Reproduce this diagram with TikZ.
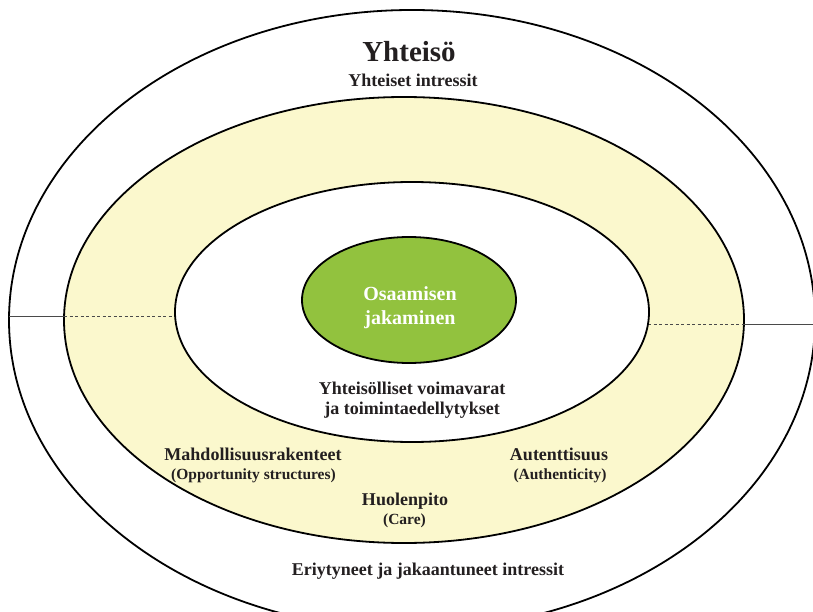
\documentclass[tikz,border=0pt]{standalone}
\usepackage{fontspec}
\setmainfont{Liberation Serif}
\usetikzlibrary{shapes.geometric}
\definecolor{ink}{HTML}{231F20}
\definecolor{band}{HTML}{FBF8CD}
\definecolor{leaf}{HTML}{92C23E}
\definecolor{rulegray}{HTML}{4A4A4A}
\begin{document}
\begin{tikzpicture}[x=1pt,y=-1pt,
  ring/.style={ellipse,draw=black,line width=1.8pt,inner sep=0pt,outer sep=0pt},
  lbl/.style={text=ink,font=\bfseries\fontsize{18}{21}\selectfont,anchor=base,inner sep=0pt},
  sublbl/.style={lbl,font=\bfseries\fontsize{15.5}{18}\selectfont},
  divider/.style={draw=rulegray,line width=1pt},
  dashdivider/.style={divider,dash pattern=on 3pt off 2.5pt}]
\useasboundingbox (0,0) rectangle (813,612);
\clip (0,0) rectangle (813,612);

% nested rings
\node[ring,fill=white,minimum width=806pt,minimum height=620pt] (outer) at (412,320) {};
\node[ring,fill=band,minimum width=680pt,minimum height=446pt] (bandring) at (404,320) {};

% divider lines through the rings
\coordinate (lo) at (9,316);
\coordinate (lb) at (64,316);
\coordinate (li) at (176,316);
\coordinate (ri) at (648,324);
\coordinate (rb) at (744,324);
\coordinate (ro) at (815,324);
\draw[divider] (lo) -- (lb);
\draw[dashdivider] (lb) -- (li);
\draw[dashdivider] (ri) -- (rb);
\draw[divider] (rb) -- (ro);

\node[ring,fill=white,minimum width=474pt,minimum height=260pt] (innerring) at (412,312) {};
\node[ring,fill=leaf,minimum width=214pt,minimum height=126pt] (core) at (409,300) {};

% texts
\node[lbl,font=\bfseries\fontsize{29}{32}\selectfont] (title) at (409,61.5) {Yhteisö};
\node[lbl] (common) at (413,86.5) {Yhteiset intressit};
\node[lbl,text=white,font=\bfseries\fontsize{20}{24}\selectfont] (core1) at (410,300) {Osaamisen};
\node[lbl,text=white,font=\bfseries\fontsize{20}{24}\selectfont] (core2) at (410,324.5) {jakaminen};
\node[lbl] (res1) at (412,394) {Yhteisölliset voimavarat};
\node[lbl] (res2) at (412,414) {ja toimintaedellytykset};
\node[lbl] (opp) at (253,460.5) {Mahdollisuusrakenteet};
\node[sublbl] (oppen) at (253.5,479) {(Opportunity structures)};
\node[lbl] (auth) at (559,460.5) {Autenttisuus};
\node[sublbl] (authen) at (560,479) {(Authenticity)};
\node[lbl] (care) at (405,505) {Huolenpito};
\node[sublbl] (careen) at (404.5,524) {(Care)};
\node[lbl] (split) at (428,575) {Eriytyneet ja jakaantuneet intressit};
\end{tikzpicture}
\end{document}
